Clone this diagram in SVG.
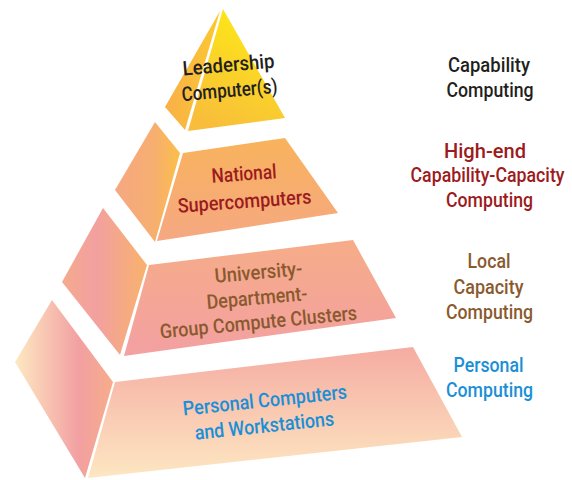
<svg xmlns="http://www.w3.org/2000/svg" width="572" height="480" viewBox="0 0 572 480">
  <style>
    text { font-family: Roboto, "Liberation Sans", Arial, sans-serif; font-weight: 500; font-size: 20px; text-anchor: middle; }
    .dark { fill: #231f20; }
    .red { fill: #9b1b20; }
    .brown { fill: #8a5a2e; }
    .blue { fill: #1b8fd6; }
  </style>
  <defs>
    <linearGradient id="t1Left" x1="0" y1="0" x2="1" y2="0">
      <stop offset="0" stop-color="#f8b048"/>
      <stop offset="1" stop-color="#fcc830"/>
    </linearGradient>
    <linearGradient id="t1Front" x1="0.7" y1="0" x2="0.3" y2="1">
      <stop offset="0" stop-color="#fdea14"/>
      <stop offset="1" stop-color="#f8bd3c"/>
    </linearGradient>
    <linearGradient id="t2Left" x1="0" y1="0" x2="1" y2="0">
      <stop offset="0" stop-color="#f5a882"/>
      <stop offset="0.6" stop-color="#f7ae70"/>
      <stop offset="1" stop-color="#fbbf48"/>
    </linearGradient>
    <linearGradient id="t2Front" x1="0" y1="0" x2="0" y2="1">
      <stop offset="0" stop-color="#f8b35c"/>
      <stop offset="1" stop-color="#f5a882"/>
    </linearGradient>
    <linearGradient id="t3Left" x1="0" y1="0" x2="1" y2="0">
      <stop offset="0" stop-color="#f5aa8c"/>
      <stop offset="0.4" stop-color="#f2a0a0"/>
      <stop offset="1" stop-color="#f8b26c"/>
    </linearGradient>
    <linearGradient id="t3Front" x1="0" y1="0" x2="0" y2="1">
      <stop offset="0" stop-color="#f6ac88"/>
      <stop offset="1" stop-color="#f3a0a2"/>
    </linearGradient>
    <linearGradient id="t4Left" x1="0" y1="0" x2="1" y2="0">
      <stop offset="0" stop-color="#fde9c2"/>
      <stop offset="0.65" stop-color="#f2a0a2"/>
      <stop offset="1" stop-color="#f6ac8a"/>
    </linearGradient>
    <linearGradient id="t4Front" x1="0" y1="0" x2="0" y2="1">
      <stop offset="0" stop-color="#f5aca2"/>
      <stop offset="1" stop-color="#fde7c2"/>
    </linearGradient>
  </defs>

  <!-- Tier 1: leadership computers (apex) -->
  <g id="tier-leadership">
    <polygon points="220,11 165,107 185,130" fill="url(#t1Left)"/>
    <polygon points="223,9 188,131 285,118" fill="url(#t1Front)"/>
    <text class="dark" transform="translate(229,71.5) rotate(-5)" textLength="92" lengthAdjust="spacingAndGlyphs">Leadership</text>
    <text class="dark" transform="translate(230,97) rotate(-5)" textLength="96" lengthAdjust="spacingAndGlyphs">Computer(s)</text>
  </g>

  <!-- Tier 2: national supercomputers -->
  <g id="tier-national">
    <polygon points="155,122 115,190 155,242 180,153" fill="url(#t2Left)"/>
    <polygon points="183,153 285,138 338,213 157,241" fill="url(#t2Front)"/>
    <text class="red" transform="translate(244.5,180.5) rotate(-4)" textLength="65" lengthAdjust="spacingAndGlyphs">National</text>
    <text class="red" transform="translate(245,208) rotate(-4)" textLength="134" lengthAdjust="spacingAndGlyphs">Supercomputers</text>
  </g>

  <!-- Tier 3: university / department / group clusters -->
  <g id="tier-clusters">
    <polygon points="103,208 62,282 120,355 147,265" fill="url(#t3Left)"/>
    <polygon points="149,265 353,240 396,318 124,356" fill="url(#t3Front)"/>
    <text class="brown" transform="translate(259,279) rotate(-5)" textLength="88" lengthAdjust="spacingAndGlyphs">University-</text>
    <text class="brown" transform="translate(257.5,304.5) rotate(-5)" textLength="101" lengthAdjust="spacingAndGlyphs">Department-</text>
    <text class="brown" transform="translate(259,329) rotate(-5.5)" textLength="198" lengthAdjust="spacingAndGlyphs">Group Compute Clusters</text>
  </g>

  <!-- Tier 4: personal computers and workstations (base) -->
  <g id="tier-personal">
    <polygon points="52,300 15,362 85,478 113,382" fill="url(#t4Left)"/>
    <polygon points="115,382 413,347 462,437 88,478" fill="url(#t4Front)"/>
    <text class="blue" transform="translate(265.5,407) rotate(-6)" textLength="165" lengthAdjust="spacingAndGlyphs">Personal Computers</text>
    <text class="blue" transform="translate(265,432.5) rotate(-6)" textLength="140" lengthAdjust="spacingAndGlyphs">and Workstations</text>
  </g>

  <!-- Category labels to the right of the pyramid -->
  <g id="label-capability">
    <text class="dark" x="489" y="72" textLength="82" lengthAdjust="spacingAndGlyphs">Capability</text>
    <text class="dark" x="490" y="96.5" textLength="87" lengthAdjust="spacingAndGlyphs">Computing</text>
  </g>
  <g id="label-highend">
    <text class="red" x="485" y="158" textLength="82" lengthAdjust="spacingAndGlyphs">High-end</text>
    <text class="red" x="487.5" y="182" textLength="154" lengthAdjust="spacingAndGlyphs">Capability-Capacity</text>
    <text class="red" x="489.5" y="207" textLength="87" lengthAdjust="spacingAndGlyphs">Computing</text>
  </g>
  <g id="label-local">
    <text class="brown" x="489" y="268" textLength="43" lengthAdjust="spacingAndGlyphs">Local</text>
    <text class="brown" x="488.5" y="294" textLength="70" lengthAdjust="spacingAndGlyphs">Capacity</text>
    <text class="brown" x="489.5" y="319" textLength="87" lengthAdjust="spacingAndGlyphs">Computing</text>
  </g>
  <g id="label-personal">
    <text class="blue" x="488.5" y="372" textLength="70" lengthAdjust="spacingAndGlyphs">Personal</text>
    <text class="blue" x="489.5" y="397" textLength="87" lengthAdjust="spacingAndGlyphs">Computing</text>
  </g>
</svg>
